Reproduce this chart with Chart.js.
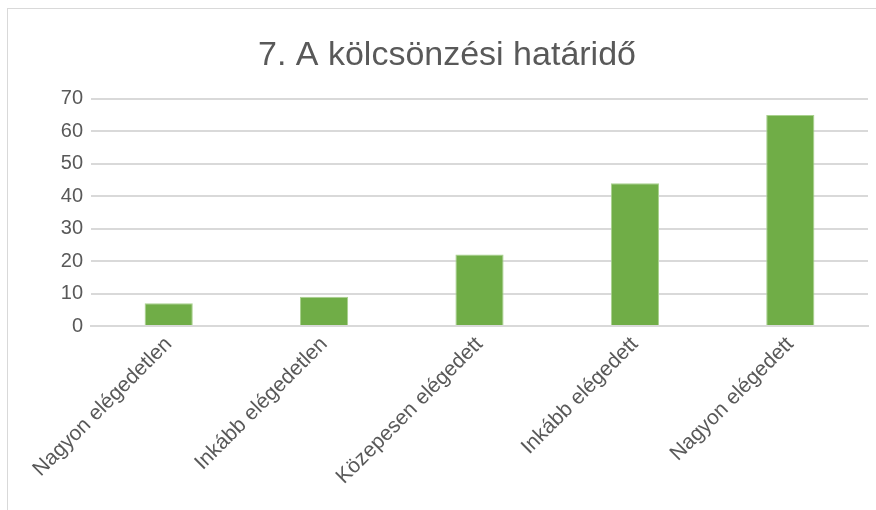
<!DOCTYPE html>
<html>
<head>
<meta charset="utf-8">
<script src="https://cdn.jsdelivr.net/npm/chart.js@4/dist/chart.umd.min.js"></script>
<style>
  html, body { margin: 0; padding: 0; background: #fff; }
  #wrap { position: relative; width: 876px; height: 510px; overflow: hidden; }
  #frame { position: absolute; left: 7px; top: 8px; width: 900px; height: 600px; border: 1px solid #d9d9d9; box-sizing: border-box; }
  canvas { position: absolute; left: 0; top: 0; }
</style>
</head>
<body>
<div id="wrap">
  <div id="frame"></div>
  <canvas id="myChart" width="876" height="510"></canvas>
</div>
<script>
const categories = ['Nagyon elégedetlen', 'Inkább elégedetlen', 'Közepesen elégedett', 'Inkább elégedett', 'Nagyon elégedett'];
const values = [7, 9, 22, 44, 65];
const chartTitle = '7. A kölcsönzési határidő';

const ctx = document.getElementById('myChart');

new Chart(ctx, {
    type: 'bar',
    data: {
        labels: categories,
        datasets: [{
            label: 'Válaszok',
            data: values,
            backgroundColor: '#70ad47',
            borderColor: '#a9d18e',
            borderWidth: 1,
            barPercentage: 0.31,
            categoryPercentage: 1
        }]
    },
    options: {
        responsive: false,
        animation: false,
        layout: {
            // left padding pushes the title centre to the right like the original
            padding: { left: 26, right: 8, top: 0, bottom: 0 }
        },
        plugins: {
            legend: { display: false },
            tooltip: { enabled: false },
            title: {
                display: true,
                text: chartTitle,
                color: '#595959',
                font: { family: 'Liberation Sans, Arial, sans-serif', size: 34, weight: 'normal', lineHeight: 1.2 },
                padding: { top: 35, bottom: 23 }
            }
        },
        scales: {
            x: {
                grid: { display: false, drawTicks: false },
                border: { display: true, color: '#d9d9d9', width: 2 },
                ticks: {
                    color: '#595959',
                    font: { family: 'Liberation Sans, Arial, sans-serif', size: 21 },
                    minRotation: 45,
                    maxRotation: 45,
                    padding: 6,
                    autoSkip: false
                },
                afterFit: function (scale) { scale.height = 184; }
            },
            y: {
                min: 0,
                max: 70,
                ticks: {
                    stepSize: 10,
                    color: '#595959',
                    font: { family: 'Liberation Sans, Arial, sans-serif', size: 20 },
                    padding: 8
                },
                grid: { color: '#d9d9d9', lineWidth: 2, drawTicks: false },
                border: { display: false },
                afterFit: function (scale) { scale.width = 65; }
            }
        }
    }
});
</script>
</body>
</html>
